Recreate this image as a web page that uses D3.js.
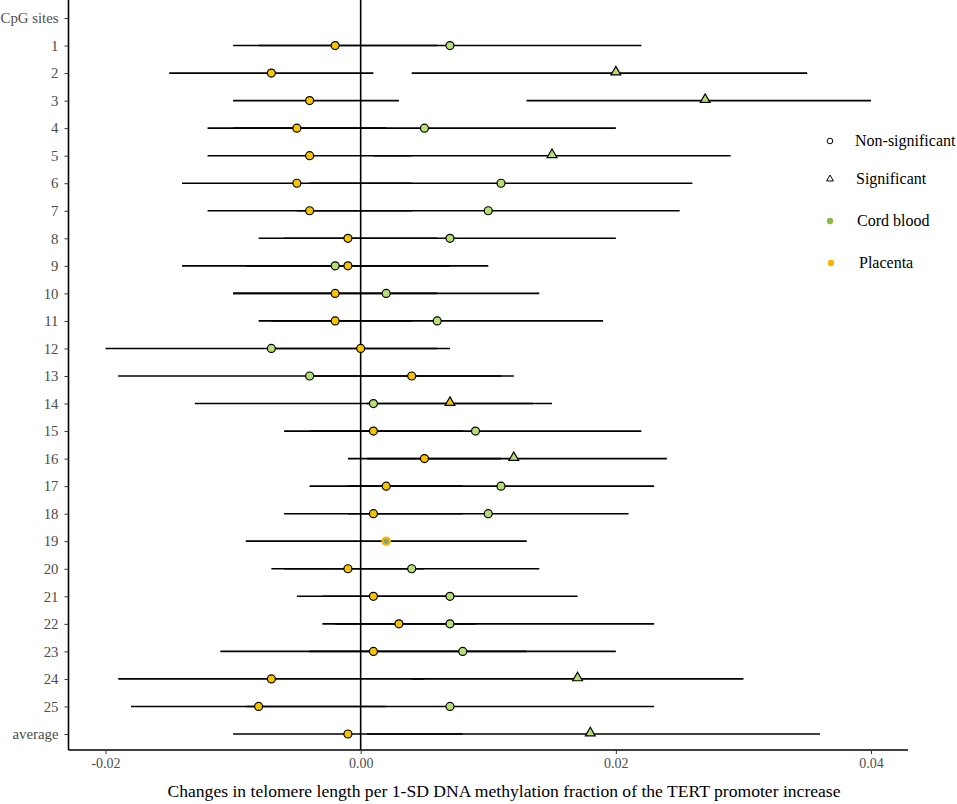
<!DOCTYPE html>
<html>
<head>
<meta charset="utf-8">
<script src="https://cdn.jsdelivr.net/npm/d3@7"></script>
<style>
  body { margin: 0; background: #fff; }
  svg text { font-family: 'Liberation Serif', 'Times New Roman', Times, 'DejaVu Serif', serif; }
</style>
</head>
<body>
<svg id="chart" width="957" height="804"></svg>
<script>
// rows, top to bottom
const sites = ['CpG sites', '1', '2', '3', '4', '5', '6', '7', '8', '9', '10', '11', '12', '13',
  '14', '15', '16', '17', '18', '19', '20', '21', '22', '23', '24', '25', 'average'];
const rows = sites.slice(1);

// cord blood estimates and 95% CI
const cordEst = [0.007, 0.020, 0.027, 0.005, 0.015, 0.011, 0.010, 0.007, -0.002, 0.002, 0.006, -0.007, -0.004,
  0.001, 0.009, 0.012, 0.011, 0.010, 0.002, 0.004, 0.007, 0.007, 0.008, 0.017, 0.007, 0.018];
const cordLo = [-0.008, 0.004, 0.013, -0.010, 0.001, -0.004, -0.005, -0.006, -0.014, -0.010, -0.007, -0.020, -0.019,
  -0.013, -0.004, 0.0005, -0.001, -0.001, -0.009, -0.006, -0.003, -0.002, -0.004, 0.004, -0.009, 0.0005];
const cordHi = [0.022, 0.035, 0.040, 0.020, 0.029, 0.026, 0.025, 0.020, 0.010, 0.014, 0.019, 0.006, 0.011,
  0.015, 0.022, 0.024, 0.023, 0.021, 0.013, 0.014, 0.017, 0.023, 0.020, 0.030, 0.023, 0.036];
const cordSig = [0, 1, 1, 0, 1, 0, 0, 0, 0, 0, 0, 0, 0, 0, 0, 1, 0, 0, 0, 0, 0, 0, 0, 1, 0, 1];

// placenta estimates and 95% CI
const placEst = [-0.002, -0.007, -0.004, -0.005, -0.004, -0.005, -0.004, -0.001, -0.001, -0.002, -0.002, 0.000, 0.004,
  0.007, 0.001, 0.005, 0.002, 0.001, 0.002, -0.001, 0.001, 0.003, 0.001, -0.007, -0.008, -0.001];
const placLo = [-0.010, -0.015, -0.010, -0.012, -0.012, -0.014, -0.012, -0.008, -0.009, -0.010, -0.008, -0.007, -0.004,
  0.0005, -0.006, -0.001, -0.004, -0.006, -0.009, -0.007, -0.005, -0.003, -0.011, -0.019, -0.018, -0.010];
const placHi = [0.006, 0.001, 0.003, 0.002, 0.004, 0.004, 0.004, 0.006, 0.007, 0.006, 0.004, 0.007, 0.012,
  0.0135, 0.008, 0.011, 0.008, 0.008, 0.013, 0.005, 0.007, 0.009, 0.013, 0.005, 0.002, 0.008];
const placSig = [0, 0, 0, 0, 0, 0, 0, 0, 0, 0, 0, 0, 0, 1, 0, 0, 0, 0, 0, 0, 0, 0, 0, 0, 0, 0];

const xTicks = [-0.02, 0, 0.02, 0.04];
const legendShapes = ['Non-significant', 'Significant'];
const legendGroups = ['Cord blood', 'Placenta'];

const green = '#b7de74', orange = '#f6c400';
const greenKey = '#8fb842', orangeKey = '#ffb300';
const serif = "'Liberation Serif', 'Times New Roman', Times, serif";

const svg = d3.select('#chart');
const left = 68.5, right = 908, bottom = 750;

const x = d3.scaleLinear().domain([-0.0229, 0.0429]).range([left, right]);
const y = d3.scalePoint().domain(sites).range([18, 734]);

const fmt = d => d3.format('.2f')(d).replace('\u2212', '-');

// x axis
const xAxis = svg.append('g')
  .attr('transform', `translate(0,${bottom})`)
  .call(d3.axisBottom(x).tickValues(xTicks).tickFormat(fmt).tickSize(4).tickSizeOuter(0))
  .attr('font-family', serif).attr('font-size', 14);
xAxis.select('.domain').attr('stroke', '#000').attr('stroke-width', 1.6)
  .attr('d', `M${left},0H${right}`);
xAxis.selectAll('.tick line').attr('stroke', '#333');
xAxis.selectAll('.tick text').attr('fill', '#4d4d4d').attr('dy', '0.8em');

// y axis
const yAxis = svg.append('g')
  .attr('transform', `translate(${left},0)`)
  .call(d3.axisLeft(y).tickSize(4).tickSizeOuter(0))
  .attr('font-family', serif).attr('font-size', 14.8);
yAxis.select('.domain').attr('stroke', '#000').attr('stroke-width', 1.6)
  .attr('d', `M0,0V${bottom}`);
yAxis.selectAll('.tick line').attr('stroke', '#333');
yAxis.selectAll('.tick text').attr('fill', '#4d4d4d').attr('x', -10);

// zero line
svg.append('line')
  .attr('x1', x(0)).attr('x2', x(0))
  .attr('y1', 0).attr('y2', bottom)
  .attr('stroke', '#000').attr('stroke-width', 1.6);

const series = [
  { est: cordEst, lo: cordLo, hi: cordHi, sig: cordSig, fill: green },
  { est: placEst, lo: placLo, hi: placHi, sig: placSig, fill: orange }
];

// confidence intervals
series.forEach(s => {
  svg.append('g').selectAll('line')
    .data(rows)
    .join('line')
    .attr('x1', (d, i) => x(s.lo[i]))
    .attr('x2', (d, i) => x(s.hi[i]))
    .attr('y1', d => y(d))
    .attr('y2', d => y(d))
    .attr('stroke', '#000')
    .attr('stroke-width', 1.6);
});

const tri = d3.symbol().type(d3.symbolTriangle).size(42);

// point estimates
series.forEach(s => {
  const g = svg.append('g');
  rows.forEach((d, i) => {
    if (cordEst[i] === placEst[i]) return;
    if (s.sig[i]) {
      g.append('path')
        .attr('d', tri)
        .attr('transform', `translate(${x(s.est[i])},${y(d) - 1})`)
        .attr('fill', s.fill)
        .attr('stroke', '#000').attr('stroke-width', 1.2);
    } else {
      g.append('circle')
        .attr('cx', x(s.est[i])).attr('cy', y(d))
        .attr('r', 4)
        .attr('fill', s.fill)
        .attr('stroke', '#000').attr('stroke-width', 1.2);
    }
  });
});

// where both estimates coincide the markers were drawn without outline
const both = svg.append('g');
rows.forEach((d, i) => {
  if (cordEst[i] !== placEst[i]) return;
  both.append('circle').attr('cx', x(placEst[i])).attr('cy', y(d)).attr('r', 4.8).attr('fill', orangeKey);
  both.append('circle').attr('cx', x(cordEst[i])).attr('cy', y(d)).attr('r', 2.6).attr('fill', '#7fa27a');
});

// axis title
svg.append('text')
  .attr('x', 504).attr('y', 797)
  .attr('text-anchor', 'middle')
  .attr('font-family', serif)
  .attr('font-size', 17.6)
  .attr('fill', '#000')
  .text('Changes in telomere length per 1-SD DNA methylation fraction of the TERT promoter increase');

// legend
const legend = svg.append('g').attr('font-family', serif).attr('font-size', 16).attr('fill', '#000');
const keyY = [141, 179, 221, 263];
const textX = [855, 856, 857, 859];

legend.append('circle').attr('cx', 830).attr('cy', keyY[0]).attr('r', 2.8)
  .attr('fill', 'none').attr('stroke', '#000').attr('stroke-width', 1);
legend.append('path').attr('d', d3.symbol().type(d3.symbolTriangle).size(20))
  .attr('transform', `translate(830,${keyY[1]})`)
  .attr('fill', 'none').attr('stroke', '#000').attr('stroke-width', 1);
legend.append('circle').attr('cx', 830).attr('cy', keyY[2]).attr('r', 3.2).attr('fill', greenKey);
legend.append('circle').attr('cx', 831).attr('cy', keyY[3]).attr('r', 3.2).attr('fill', orangeKey);

legendShapes.concat(legendGroups).forEach((t, i) => {
  legend.append('text')
    .attr('x', textX[i]).attr('y', keyY[i])
    .attr('dy', '0.33em')
    .text(t);
});
</script>
</body>
</html>
